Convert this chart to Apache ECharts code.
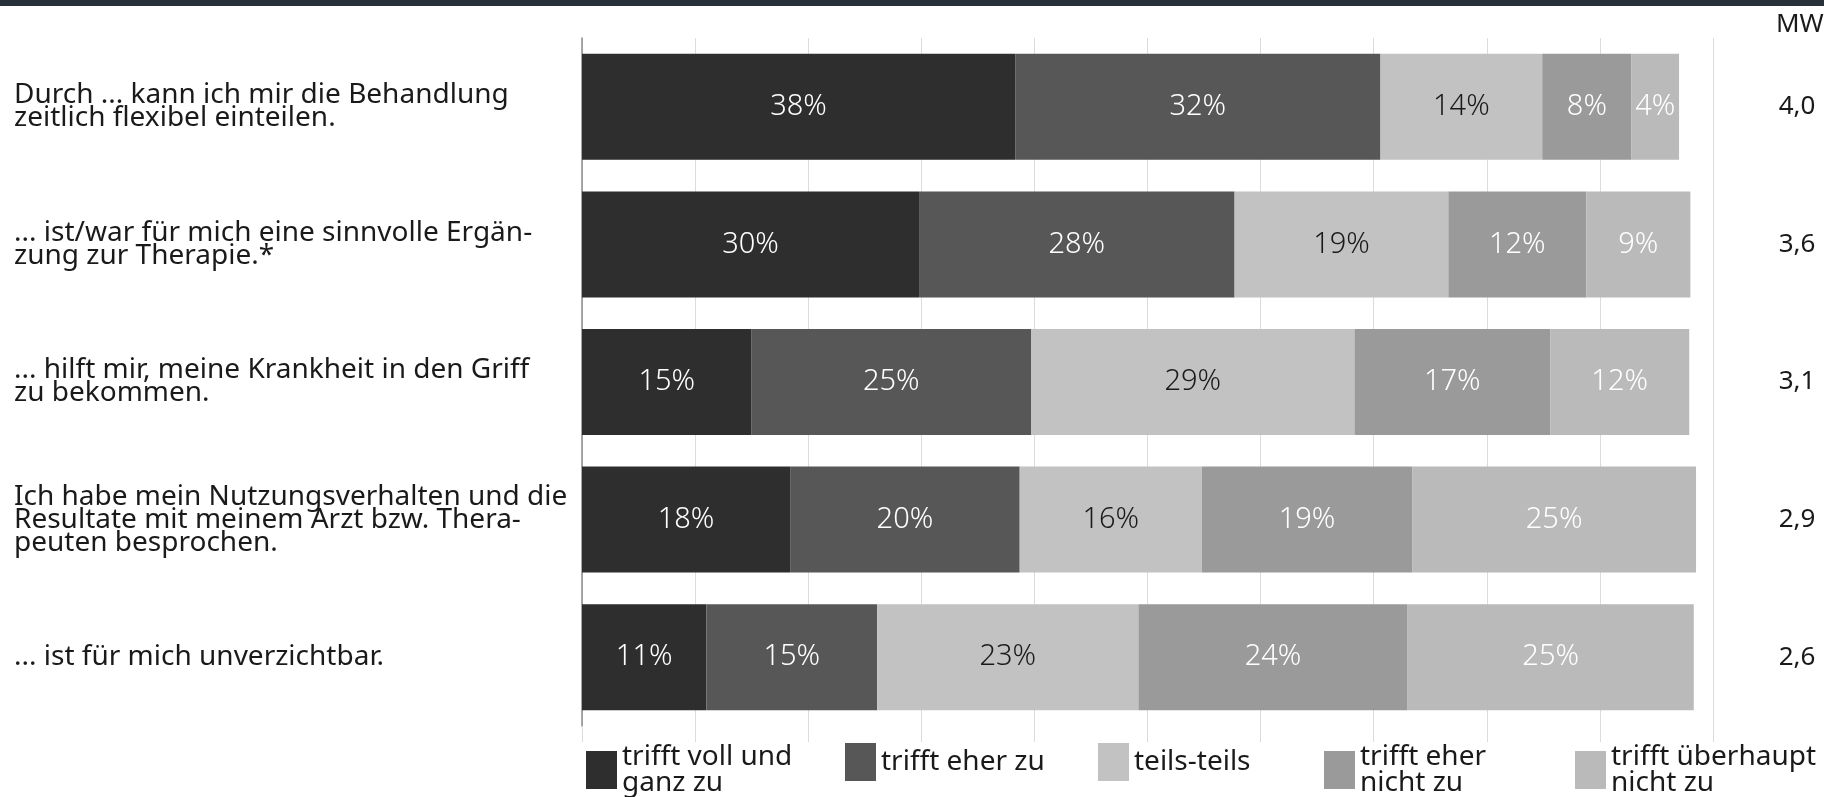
<!DOCTYPE html>
<html>
<head>
<meta charset="utf-8">
<script src="https://cdn.jsdelivr.net/npm/echarts@6/dist/echarts.min.js"></script>
<style>
	html, body { margin: 0; padding: 0; background: #fff; }
	#chart { width: 1824px; height: 797px; }
</style>
</head>
<body>
<div id="chart"></div>
<script>
// statements (top to bottom)
const categories = [
	"Durch ... kann ich mir die Behandlung\nzeitlich flexibel einteilen.",
	"... ist/war für mich eine sinnvolle Ergän-\nzung zur Therapie.*",
	"... hilft mir, meine Krankheit in den Griff\nzu bekommen.",
	"Ich habe mein Nutzungsverhalten und die\nResultate mit meinem Arzt bzw. Thera-\npeuten besprochen.",
	"... ist für mich unverzichtbar.",
]
// answer shares in %
const vollUndGanz = [38.3, 29.8, 15.0, 18.4, 11.0]
const eherZu = [32.3, 27.9, 24.7, 20.3, 15.1]
const teilsTeils = [14.3, 18.9, 28.6, 16.1, 23.1]
const eherNicht = [7.9, 12.2, 17.3, 18.6, 23.8]
const ueberhauptNicht = [4.2, 9.2, 12.3, 25.1, 25.3]
// Mittelwert column
const mwValues = ["4,0", "3,6", "3,1", "2,9", "2,6"]

const seriesDefs = [
	{ name: "trifft voll und\nganz zu", data: vollUndGanz, color: "#2e2e2e", labelColor: "#fff" },
	{ name: "trifft eher zu", data: eherZu, color: "#575757", labelColor: "#fff" },
	{ name: "teils-teils", data: teilsTeils, color: "#c2c2c2", labelColor: "#1a1a1a" },
	{ name: "trifft eher\nnicht zu", data: eherNicht, color: "#9a9a9a", labelColor: "#fff" },
	{ name: "trifft überhaupt\nnicht zu", data: ueberhauptNicht, color: "#bababa", labelColor: "#fff" },
]
const legendLefts = [586, 845, 1098, 1324, 1575]

const font = "'Noto Sans', 'DejaVu Sans', sans-serif"

const chart = echarts.init(document.getElementById("chart"))

const series = seriesDefs.map(s => ({
	name: s.name,
	type: "bar",
	stack: "total",
	data: s.data,
	barWidth: 106,
	itemStyle: { color: s.color },
	label: {
		show: true,
		position: "inside",
		color: s.labelColor,
		fontFamily: font,
		fontSize: 29,
		fontWeight: 300,
		formatter: p => Math.round(p.value) + "%",
	},
	emphasis: { disabled: true },
}))

const legends = seriesDefs.map((s, idx) => ({
	data: [{ name: s.name, icon: "rect" }],
	left: legendLefts[idx],
	top: 743,
	padding: 0,
	itemWidth: 31,
	itemHeight: 38,
	textStyle: {
		fontFamily: font,
		fontSize: 28,
		lineHeight: 26,
		color: "#1a1a1a",
	},
}))

chart.setOption({
	animation: false,
	title: {
		text: "MW",
		left: 1771,
		top: 7,
		textStyle: { fontFamily: font, fontSize: 26, fontWeight: "normal", color: "#1a1a1a" },
	},
	graphic: [
		{ type: "rect", shape: { x: 0, y: 0, width: 1824, height: 6 }, style: { fill: "#283139" } },
	],
	legend: legends,
	grid: {
		left: 582,
		right: 111,
		top: 38,
		bottom: 71,
	},
	xAxis: {
		type: "value",
		min: 0,
		max: 100,
		interval: 10,
		axisLabel: { show: false },
		axisLine: { show: false },
		axisTick: { show: true, length: 16, lineStyle: { color: "#dcdcdc" } },
		splitLine: { show: true, lineStyle: { color: "#dcdcdc" } },
	},
	yAxis: [
		{
			type: "category",
			inverse: true,
			data: categories,
			axisLine: { show: true, lineStyle: { color: "#8c8c8c", width: 1.5 } },
			axisTick: { show: false },
			axisLabel: {
				align: "left",
				margin: 568,
				padding: [6, 0, 0, 0],
				fontFamily: font,
				fontSize: 28,
				lineHeight: 23,
				color: "#1a1a1a",
			},
		},
		{
			type: "category",
			inverse: true,
			position: "right",
			data: mwValues,
			axisLine: { show: false },
			axisTick: { show: false },
			axisLabel: {
				align: "center",
				margin: 84,
				padding: [8, 0, 0, 0],
				fontFamily: font,
				fontSize: 26,
				color: "#1a1a1a",
			},
		},
	],
	series: series,
})
</script>
</body>
</html>
